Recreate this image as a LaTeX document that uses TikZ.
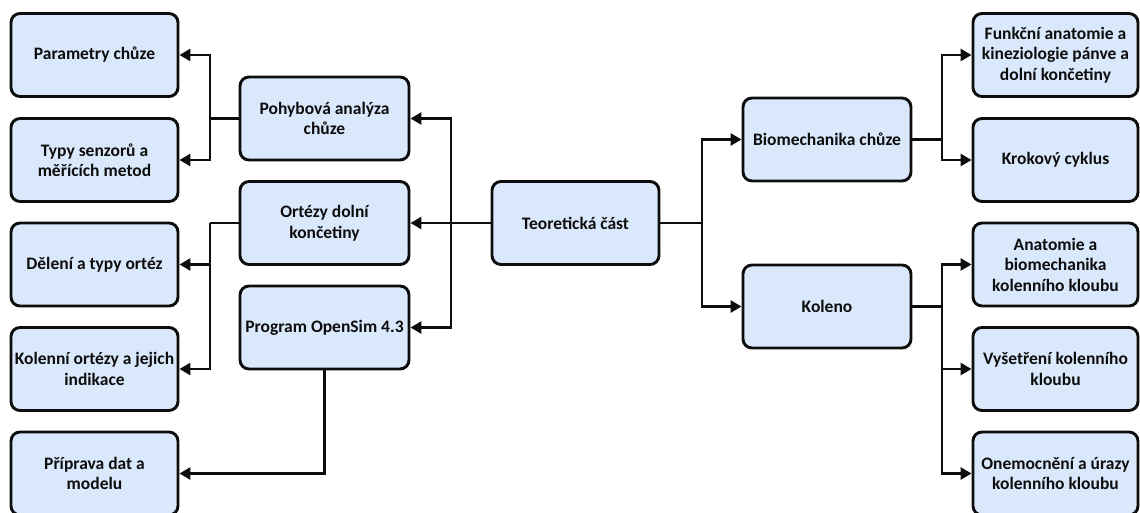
\documentclass[tikz,border=0pt]{standalone}
\usepackage{fontspec}
\setmainfont{Carlito}
\usetikzlibrary{arrows.meta}
\definecolor{boxfill}{HTML}{DAE8FC}
\definecolor{ink}{HTML}{0D0D0D}
\tikzset{
  box/.style={draw=ink, fill=boxfill, line width=2.9pt, rounded corners=9pt,
    minimum height=83pt, inner sep=0pt, align=center, text=ink,
    font=\fontsize{17.5}{20.5}\selectfont\bfseries},
  lbox/.style={box, minimum width=167pt},
  mbox/.style={box, minimum width=169pt},
  rbox/.style={box, minimum width=165pt},
  arr/.style={draw=ink, line width=2.9pt, -{Triangle[length=11pt,width=12pt]}},
  ln/.style={draw=ink, line width=2.9pt}
}
\begin{document}
\begin{tikzpicture}[x=1pt,y=-1pt]
\useasboundingbox (0,0) rectangle (1140,512);
% left column
\node[lbox] (param) at (94.5,55) {Parametry chůze};
\node[lbox] (typy) at (94.5,160) {Typy senzorů a\\měřících metod};
\node[lbox] (deleni) at (94.5,264.5) {Dělení a typy ortéz};
\node[lbox] (kolort) at (94.5,369) {Kolenní ortézy a jejich\\indikace};
\node[lbox] (priprava) at (94.5,473.5) {Příprava dat a\\modelu};
% middle column
\node[mbox] (pohyb) at (324.5,118.5) {Pohybová analýza\\chůze};
\node[mbox] (ortezy) at (324.5,223) {Ortézy dolní\\končetiny};
\node[mbox] (opensim) at (324.5,327.5) {Program OpenSim 4.3};
% centre
\node[lbox] (teor) at (575.5,223) {Teoretická část};
% right middle
\node[mbox, minimum width=168pt] (bio) at (827,139.5) {Biomechanika chůze};
\node[mbox, minimum width=168pt] (koleno) at (827,306.5) {Koleno};
% right column
\node[rbox] (funk) at (1055.5,55) {Funkční anatomie a\\kineziologie pánve a\\dolní končetiny};
\node[rbox] (krok) at (1055.5,160) {Krokový cyklus};
\node[rbox] (anat) at (1055.5,264.5) {Anatomie a\\biomechanika\\kolenního kloubu};
\node[rbox] (vys) at (1055.5,369) {Vyšetření kolenního\\kloubu};
\node[rbox] (onem) at (1055.5,473.5) {Onemocnění a úrazy\\kolenního kloubu};
% junction coordinates
\coordinate (jp) at (210,118.5);
\coordinate (jo) at (210,223);
\coordinate (jt) at (451,223);
\coordinate (jr) at (702,223);
\coordinate (jb) at (942,139.5);
\coordinate (jk) at (942,306.5);
% connectors
\draw[ln] (pohyb.west) -- (jp);
\draw[arr] (jp) |- (param.east);
\draw[arr] (jp) |- (typy.east);
\draw[ln] (ortezy.west) -- (jo);
\draw[arr] (jo) |- (deleni.east);
\draw[arr] (jo) |- (kolort.east);
\draw[arr] (opensim.south) |- (priprava.east);
\draw[arr] (teor.west) -- (ortezy.east);
\draw[arr] (jt) |- (pohyb.east);
\draw[arr] (jt) |- (opensim.east);
\draw[ln] (teor.east) -- (jr);
\draw[arr] (jr) |- (bio.west);
\draw[arr] (jr) |- (koleno.west);
\draw[ln] (bio.east) -- (jb);
\draw[arr] (jb) |- (funk.west);
\draw[arr] (jb) |- (krok.west);
\draw[ln] (koleno.east) -- (jk);
\draw[arr] (jk) |- (anat.west);
\draw[arr] (jk) |- (vys.west);
\draw[arr] (jk) |- (onem.west);
\end{tikzpicture}
\end{document}
